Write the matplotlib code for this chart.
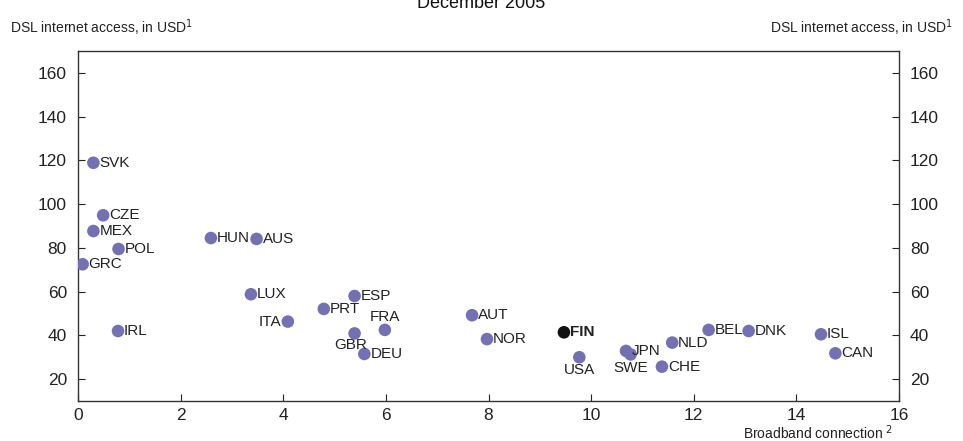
import matplotlib
matplotlib.use("Agg")
import matplotlib.pyplot as plt

plt.rcParams['font.family'] = ['Liberation Sans', 'DejaVu Sans']

countries = ["SVK", "CZE", "MEX", "POL", "GRC", "HUN", "AUS", "LUX", "ITA", "PRT",
             "ESP", "GBR", "DEU", "FRA", "AUT", "NOR", "IRL", "FIN", "USA", "JPN",
             "SWE", "NLD", "CHE", "BEL", "DNK", "ISL", "CAN"]
broadband = [0.30, 0.49, 0.30, 0.79, 0.09, 2.59, 3.48, 3.37, 4.09, 4.79,
             5.39, 5.39, 5.58, 5.98, 7.68, 7.97, 0.78, 9.47, 9.77, 10.68,
             10.77, 11.58, 11.38, 12.29, 13.07, 14.48, 14.76]
dsl_price = [118.9, 94.9, 87.7, 79.5, 72.5, 84.5, 84.1, 58.8, 46.3, 52.1,
             58.0, 40.9, 31.5, 42.5, 49.2, 38.3, 42.0, 41.4, 30.0, 32.9,
             31.3, 36.7, 25.7, 42.5, 42.0, 40.5, 31.8]

highlight = "FIN"
x_ticks = [0, 2, 4, 6, 8, 10, 12, 14, 16]
y_ticks = [20, 40, 60, 80, 100, 120, 140, 160]

# label placement: (dx, dy in points, ha, va)
special = {
    "ITA": (-4.5, 0, "right", "center"),
    "GBR": (-3, -8, "center", "center"),
    "FRA": (0, 9, "center", "center"),
    "USA": (0, -9, "center", "center"),
    "SWE": (0, -10, "center", "center"),
}

fig = plt.figure(figsize=(9.63, 4.41), dpi=100)
ax = fig.add_axes([78/963, 40/441, (899-78)/963, (401-51)/441])

colors = ["#111111" if c == highlight else "#7370b6" for c in countries]
ax.scatter(broadband, dsl_price, s=82, c=colors, edgecolors="none", zorder=3)

for c, x, y in zip(countries, broadband, dsl_price):
    dx, dy, ha, va = special.get(c, (4.3, 0, "left", "center"))
    ax.annotate(c, (x, y), xytext=(dx, dy), textcoords="offset points",
                ha=ha, va=va, fontsize=11, color="#222222",
                fontweight="bold" if c == highlight else "normal", zorder=4)

ax.set_xlim(0, 16)
ax.set_ylim(10, 170)
ax.set_xticks(x_ticks)
ax.set_yticks(y_ticks)
ax.tick_params(axis="both", direction="in", labelsize=12.5, colors="#222222",
               length=5, width=0.8)
ax.tick_params(axis="y", which="both", left=True, right=True,
               labelleft=True, labelright=True, pad=8)
ax.tick_params(axis="x", pad=5)
for s in ax.spines.values():
    s.set_color("#333333")
    s.set_linewidth(1.0)

fig.text(10/963, 1 - 28/441, "DSL internet access, in USD$^1$", fontsize=10,
         ha="left", va="center", color="#222222")
fig.text(953/963, 1 - 28/441, "DSL internet access, in USD$^1$", fontsize=10,
         ha="right", va="center", color="#222222")
fig.text(893/963, 1 - 438.5/441, "Broadband connection $^2$", fontsize=10,
         ha="right", va="baseline", color="#222222")
fig.text(481/963, 1 - 8/441, "December 2005", fontsize=13,
         ha="center", va="baseline", color="#111111")

fig.savefig("out.png", dpi=100)
